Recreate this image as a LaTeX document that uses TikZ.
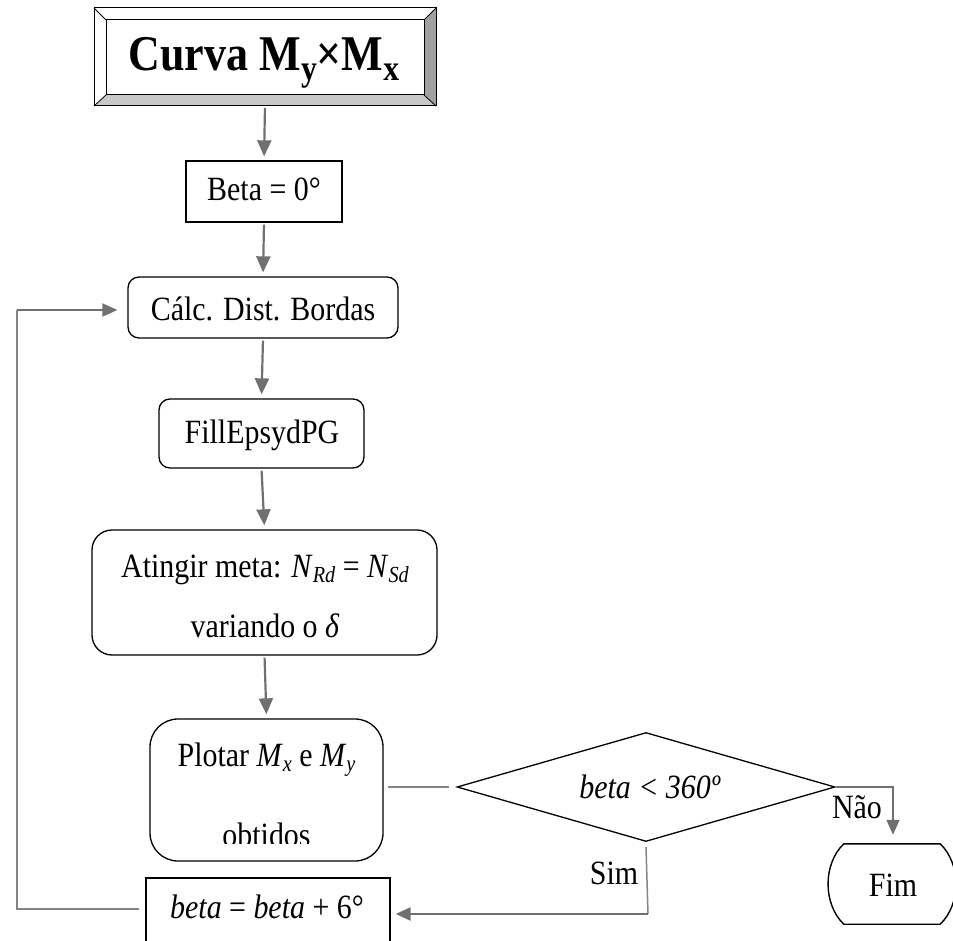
\documentclass[tikz,border=0pt]{standalone}
\usepackage{fontspec}
\setmainfont[FakeStretch=0.88]{Liberation Serif}
\usetikzlibrary{arrows.meta,shapes.geometric,calc}

\definecolor{arrowgray}{HTML}{707070}
\definecolor{linegray}{HTML}{858585}
\definecolor{bevelright}{HTML}{A0A0A0}
\definecolor{bevelbottom}{HTML}{C8C8C8}

% lowered, smaller index text
\newcommand{\sbs}[1]{\raisebox{-0.16em}{\fontsize{23}{23}\selectfont #1}}
\newcommand{\tsbs}[1]{\raisebox{-0.2em}{\fontsize{36}{36}\selectfont #1}}

\tikzset{
  x=1pt, y=-1pt,
  boxframe/.style={draw=black, line width=1.3pt, inner sep=0pt},
  sqbox/.style={boxframe},
  rbox/.style={boxframe, rounded corners=#1},
  rbox/.default=11pt,
  txt/.style={anchor=base, inner sep=0pt, font=\fontsize{34}{40}\selectfont},
  arr/.style={draw=arrowgray, line width=2.2pt,
    -{Triangle[length=16pt,width=14pt]}, shorten <=2pt, shorten >=4pt},
  conn/.style={draw=linegray, line width=1.5pt},
  connarr/.style={draw=arrowgray, line width=2pt,
    -{Triangle[length=15pt,width=13pt]}},
}

\begin{document}
\begin{tikzpicture}
\useasboundingbox (0,0) rectangle (953,941);
\clip (0,0) rectangle (953,941);

% bevelled title frame
\fill[white] (94,8) rectangle (436,106);
\fill[bevelright] (436,8) -- (436,106) -- (424,95) -- (424,20) -- cycle;
\fill[bevelbottom] (94,106) -- (436,106) -- (424,95) -- (106,95) -- cycle;
\draw[line width=1pt] (94,8) rectangle (436,106);
\draw[line width=1pt] (106,20) rectangle (424,95);
\draw[line width=0.8pt] (94,8) -- (106,20) (436,8) -- (424,20)
  (436,106) -- (424,95) (94,106) -- (106,95);
\node[inner sep=0pt, minimum width=318pt, minimum height=75pt] (title) at (265,57.5) {};
\node[anchor=base, inner sep=0pt, font=\fontsize{50}{54}\selectfont\bfseries]
  (titleT) at (264,71) {Curva M\tsbs{y}×M\tsbs{x}};

% process boxes
\node[sqbox, minimum width=156pt, minimum height=61pt] (beta0) at (264,191.5) {};
\node[txt] (beta0T) at (264,201) {Beta = 0°};

\node[rbox, minimum width=270pt, minimum height=61pt] (calc) at (263,307.5) {};
\node[txt] (calcT) at (263,320) {Cálc. Dist. Bordas};

\node[rbox, minimum width=205pt, minimum height=69pt] (fill) at (261.5,433.5) {};
\node[txt] (fillT) at (262,443) {FillEpsydPG};

\node[rbox=20pt, minimum width=345pt, minimum height=125pt] (ating) at (264.5,592.5) {};
\node[txt] (atingT) at (265,577) {Atingir meta: \textit{N}\sbs{\textit{Rd}} = \textit{N}\sbs{\textit{Sd}}};
\node[txt] (atingU) at (265,637) {variando o \textit{δ}};

\node[rbox=28pt, minimum width=233pt, minimum height=142pt] (plot) at (266.5,790) {};
\node[txt] (plotT) at (266.5,766) {Plotar \textit{M}\sbs{\textit{x}} e \textit{M}\sbs{\textit{y}}};
\begin{scope}
  \clip (150,790) rectangle (383,843);
  \node[txt] (plotU) at (266.5,846) {obtidos};
\end{scope}

% decision
\node[draw=black, line width=1.3pt, diamond, aspect=3.47, inner sep=0pt,
  minimum width=378pt, minimum height=109pt] (dia) at (646,787) {};
\node[txt] (diaT) at (650,798) {\textit{beta < 360º}};

% terminator
\node[inner sep=0pt, minimum width=122pt, minimum height=80pt] (fim) at (891,884) {};
\draw[line width=1.4pt]
  ($(fim.north west)+(14,0)$) -- ($(fim.north east)+(-12,0)$)
  .. controls ($(fim.north east)+(9,20)$) and ($(fim.south east)+(9,-20)$) ..
  ($(fim.south east)+(-12,0)$) -- ($(fim.south west)+(14,0)$)
  .. controls ($(fim.south west)+(-7,-20)$) and ($(fim.north west)+(-7,20)$) ..
  cycle;
\node[txt] (fimT) at (893,896) {Fim};

% increment box
\node[sqbox, minimum width=244pt, minimum height=82pt] (inc) at (268,919) {};
\node[txt] (incT) at (267,918) {\textit{beta} = \textit{beta} + 6°};

% main flow
\draw[arr] (title.south |- 0,106) -- (beta0.north);
\draw[arr] (beta0.south) -- (calc.north);
\draw[arr] (calc.south) -- (fill.north);
\draw[arr] (fill.south) -- (ating.north);
\draw[arr] (ating.south) -- (plot.north);

% plot to decision
\draw[conn] ($(plot.east |- dia.west)+(4,0)$) -- ($(dia.west)+(-7,0)$);

% "Nao" branch
\coordinate (naoCorner) at (893,787);
\draw[connarr, line width=1.6pt] (dia.east) -- (naoCorner) -- ($(fim.north -| naoCorner)+(0,-9)$);
\node[txt] (naoT) at (857,818) {Não};

% "Sim" branch
\coordinate (simCorner) at (648,914);
\draw[conn] ($(dia.south)+(0,5)$) -- (simCorner);
\draw[connarr, line width=2.4pt] (simCorner) -- ($(inc.east |- simCorner)+(5,0)$);
\node[txt] (simT) at (614,884) {Sim};

% loop back
\coordinate (loopDown) at (17,909);
\coordinate (loopUp) at (17,310);
\draw[conn] ($(inc.west |- loopDown)+(-6,0)$) -- (loopDown) -- (loopUp);
\draw[connarr] (loopUp) -- ($(calc.west |- loopUp)+(-10,0)$);
\end{tikzpicture}
\end{document}
